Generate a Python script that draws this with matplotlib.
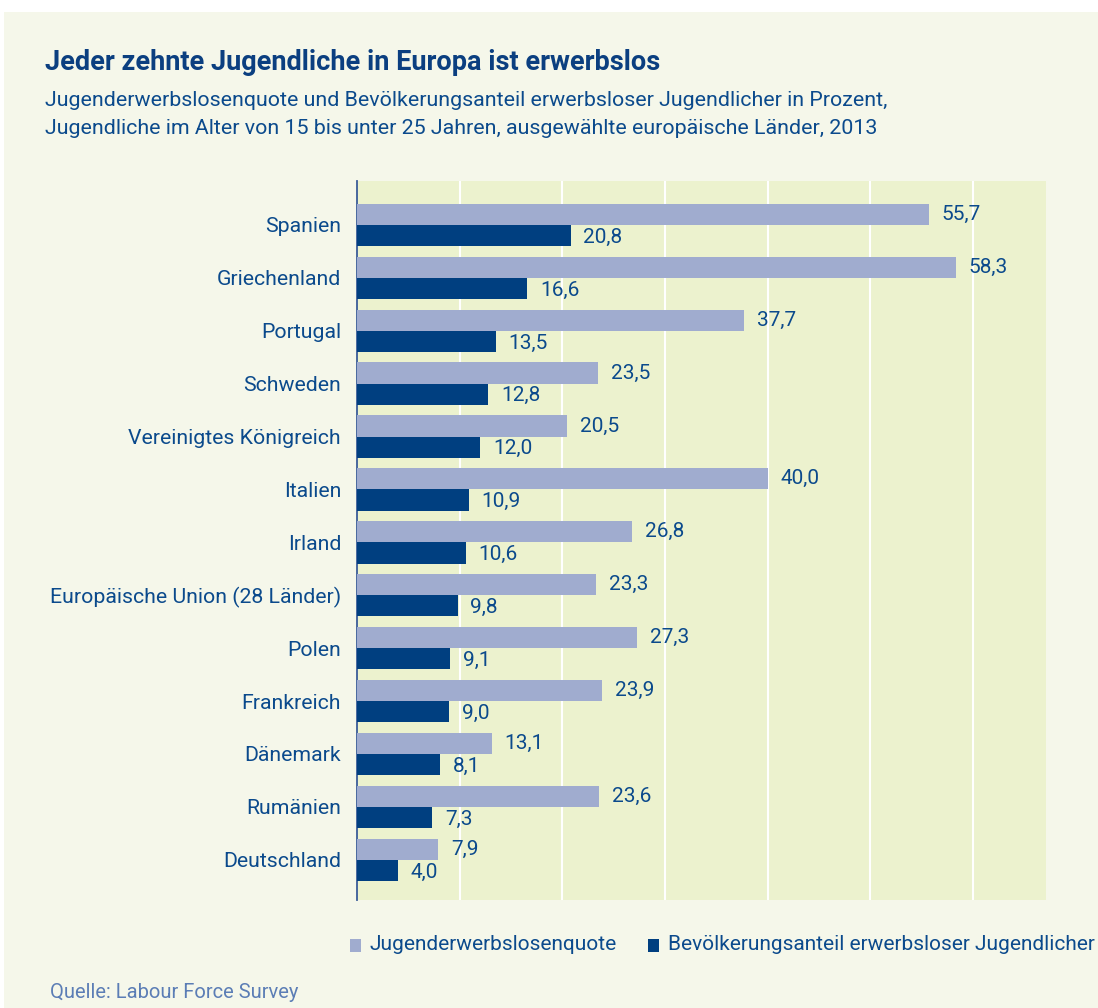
import matplotlib
matplotlib.use("Agg")
import matplotlib.pyplot as plt
from matplotlib.patches import Rectangle
from matplotlib import font_manager
import numpy as np

categories = ["Spanien", "Griechenland", "Portugal", "Schweden", "Vereinigtes Königreich",
              "Italien", "Irland", "Europäische Union (28 Länder)", "Polen", "Frankreich",
              "Dänemark", "Rumänien", "Deutschland"]
quote = [55.7, 58.3, 37.7, 23.5, 20.5, 40.0, 26.8, 23.3, 27.3, 23.9, 13.1, 23.6, 7.9]
anteil = [20.8, 16.6, 13.5, 12.8, 12.0, 10.9, 10.6, 9.8, 9.1, 9.0, 8.1, 7.3, 4.0]
series_names = ["Jugenderwerbslosenquote", "Bevölkerungsanteil erwerbsloser Jugendlicher"]

installed = {f.name for f in font_manager.fontManager.ttflist}
main_font = "Roboto" if "Roboto" in installed else "DejaVu Sans"
FONT = [main_font, "DejaVu Sans"]
plt.rcParams['font.family'] = FONT

W, H = 1098, 1008
fig = plt.figure(figsize=(W / 100, H / 100), dpi=100, facecolor="white")
bg = Rectangle((4 / W, 0), 1 - 4 / W, 1 - 12 / H, transform=fig.transFigure,
               facecolor="#F5F7EA", edgecolor="none", zorder=-10)
fig.patches.append(bg)

text_col = "#0B4A8C"
light = "#A0ACCF"
dark = "#003F80"

ax = fig.add_axes([357 / W, 1 - 900 / H, (1046 - 357) / W, (900 - 181) / H])
ax.set_facecolor("#ECF2CE")

y = np.arange(len(categories))
h = 0.4
ax.barh(y - h / 2, quote, height=h, color=light, edgecolor="none", zorder=3)
ax.barh(y + h / 2, anteil, height=h, color=dark, edgecolor="none", zorder=3)

for yi, v in zip(y, quote):
    ax.text(v + 1.25, yi - h / 2, f"{v:.1f}".replace(".", ","), va="center", ha="left",
            fontsize=15, color=text_col, zorder=4)
for yi, v in zip(y, anteil):
    ax.text(v + 1.25, yi + h / 2 + 0.03, f"{v:.1f}".replace(".", ","), va="center", ha="left",
            fontsize=15, color=text_col, zorder=4)

ax.set_xlim(0, 67.1)
ax.set_ylim(len(categories) - 1 + 0.76, -0.83)
ax.set_xticks(np.arange(10, 70, 10))
ax.xaxis.grid(True, color="white", linewidth=1.5, zorder=1)
ax.tick_params(axis="x", length=0, labelbottom=False)
ax.set_yticks(y)
ax.set_yticklabels(categories, fontsize=15.3, color=text_col)
ax.tick_params(axis="y", length=0, pad=11.5)
for s in ["top", "right", "bottom"]:
    ax.spines[s].set_visible(False)
ax.spines["left"].set_color("#3A5C99")
ax.spines["left"].set_linewidth(1.3)

fig.text(45 / W, 1 - 62 / H, "Jeder zehnte Jugendliche in Europa ist erwerbslos",
         fontsize=19.5, fontweight="bold", color="#0B3F80", va="center", ha="left")
fig.text(45 / W, 1 - 101 / H,
         "Jugenderwerbslosenquote und Bevölkerungsanteil erwerbsloser Jugendlicher in Prozent,",
         fontsize=15.4, color=text_col, va="center", ha="left")
fig.text(45 / W, 1 - 129 / H,
         "Jugendliche im Alter von 15 bis unter 25 Jahren, ausgewählte europäische Länder, 2013",
         fontsize=15.4, color=text_col, va="center", ha="left")

# legend
for x0, col, name in [(350, light, series_names[0]), (648, dark, series_names[1])]:
    fig.patches.append(Rectangle((x0 / W, 1 - 952 / H), 11 / W, 13 / H,
                                 transform=fig.transFigure, facecolor=col,
                                 edgecolor="none"))
    fig.text((x0 + 20) / W, 1 - 945 / H, name, fontsize=15, color=text_col,
             va="center", ha="left")

fig.text(50 / W, 1 - 992 / H, "Quelle: Labour Force Survey", fontsize=14.5,
         color="#5B7DB5", va="center", ha="left")

fig.savefig("out.png", dpi=100, facecolor="white")
